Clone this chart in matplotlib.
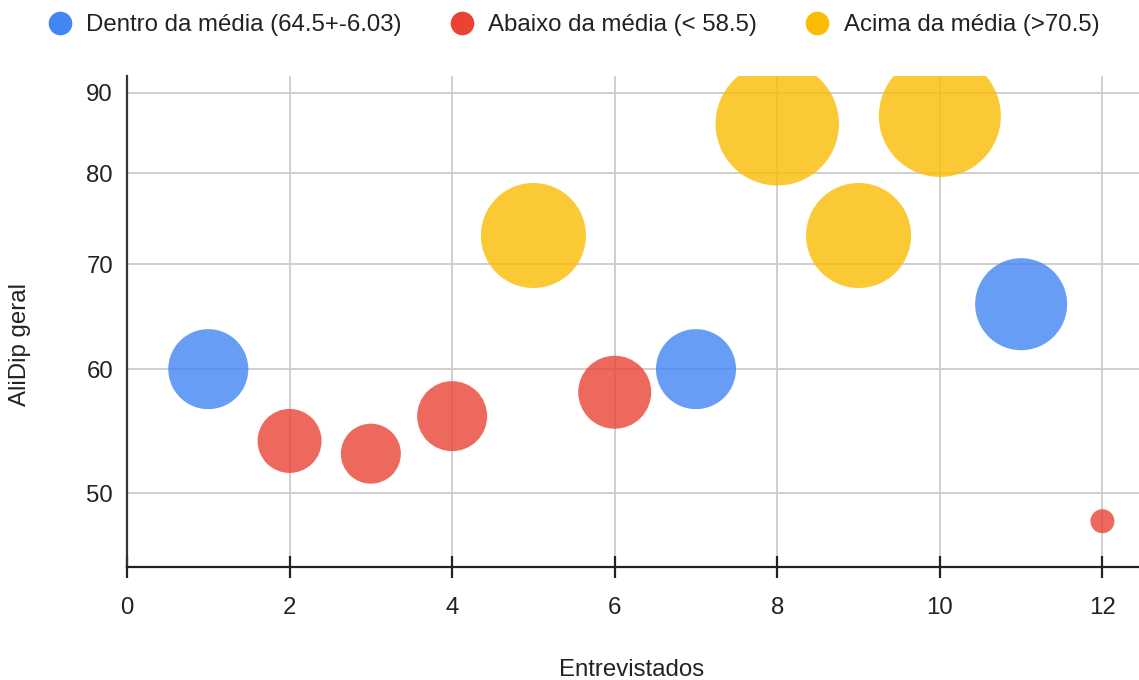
import matplotlib
matplotlib.use("Agg")
import matplotlib.pyplot as plt
from matplotlib.lines import Line2D
from matplotlib.ticker import FixedLocator, NullLocator
import numpy as np

plt.rcParams['font.family'] = ['Liberation Sans', 'DejaVu Sans']

# Entrevistados, AliDip geral, peso da bolha e grupo
entrevistados = [1, 2, 3, 4, 5, 6, 7, 8, 9, 10, 11, 12]
alidip = [60, 54, 53, 56, 73, 58, 60, 86, 73, 87, 66, 48]
peso = [40, 32, 30, 35, 52.5, 36.5, 40, 61.7, 52.5, 61, 46, 12]
grupo = ['dentro', 'abaixo', 'abaixo', 'abaixo', 'acima', 'abaixo',
         'dentro', 'acima', 'acima', 'acima', 'dentro', 'abaixo']

grupos = ['dentro', 'abaixo', 'acima']
rotulos = ['Dentro da média (64.5+-6.03)', 'Abaixo da média (< 58.5)',
           'Acima da média (>70.5)']
cores = {'dentro': '#4285F4', 'abaixo': '#EA4335', 'acima': '#FBBC04'}

x_ticks = [0, 2, 4, 6, 8, 10, 12]
y_ticks = [50, 60, 70, 80, 90]

FS = 17.3
TXT = '#222222'

W, H, DPI = 1139, 680, 100
fig = plt.figure(figsize=(W / DPI, H / DPI), dpi=DPI)
ax = fig.add_axes([127 / W, 1 - 566.7 / H, 1 - 127 / W, (566.7 - 76) / H])

ax.set_yscale('log')
ax.set_xlim(0, 12.45)
ax.set_ylim(44.9, 92.25)

# bubble radius (px) grows linearly with the weight value
r_min, r_max = 12.0, 61.7
p = np.array(peso, dtype=float)
raio = r_min + (p - p.min()) / (p.max() - p.min()) * (r_max - r_min)
px_to_pt = 72 / DPI
area = (2 * raio * px_to_pt) ** 2

x = np.array(entrevistados)
y = np.array(alidip)
g = np.array(grupo)
for k in grupos:
    m = g == k
    ax.scatter(x[m], y[m], s=area[m], color=cores[k], alpha=0.8,
               edgecolors='none', zorder=3)

ax.yaxis.set_major_locator(FixedLocator(y_ticks))
ax.yaxis.set_minor_locator(NullLocator())
ax.set_yticklabels([str(v) for v in y_ticks])
ax.xaxis.set_major_locator(FixedLocator(x_ticks))
ax.set_xticklabels([str(v) for v in x_ticks])

ax.grid(True, which='major', color='#cccccc', linewidth=1.3, zorder=0)
ax.set_axisbelow(True)

for s in ['top', 'right']:
    ax.spines[s].set_visible(False)
ax.spines['left'].set_color('#333333')
ax.spines['left'].set_linewidth(1.6)
ax.spines['bottom'].set_color(TXT)
ax.spines['bottom'].set_linewidth(1.6)

ax.tick_params(axis='y', length=0, pad=10, labelsize=FS, labelcolor=TXT)
ax.tick_params(axis='x', direction='inout', length=16, width=1.6,
               color=TXT, pad=13.5, labelsize=FS, labelcolor=TXT)

ax.set_xlabel('Entrevistados', fontsize=FS, color=TXT)
ax.xaxis.set_label_coords((632 - 127) / 1012, (566.7 - 659) / 490.7)
ax.set_ylabel('AliDip geral', fontsize=FS, color=TXT)
ax.yaxis.set_label_coords((31 - 127) / 1012, (566.7 - 344) / 490.7)

handles = [Line2D([0], [0], marker='o', linestyle='none', markersize=17,
                  markerfacecolor=cores[k], markeredgecolor='none')
           for k in grupos]
fig.legend(handles, rotulos, loc='center', bbox_to_anchor=(0.5035, 1 - 25 / H),
           ncol=3, frameon=False, fontsize=FS, handletextpad=0.6,
           columnspacing=2.0, handlelength=1.0, labelcolor=TXT,
           borderaxespad=0, borderpad=0)

fig.savefig('out.png', dpi=DPI)
